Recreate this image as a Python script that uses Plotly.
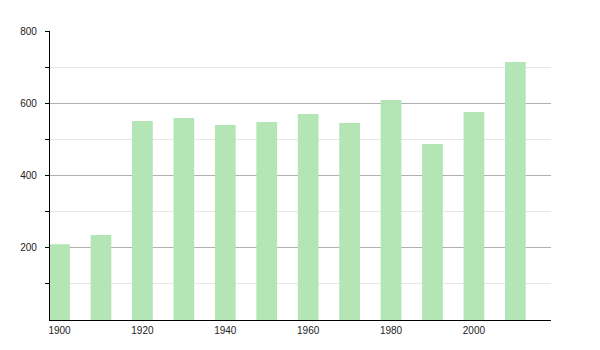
import plotly.graph_objects as go

years = [1900, 1910, 1920, 1930, 1940, 1950, 1960, 1970, 1980, 1990, 2000, 2010]
values = [210, 235, 551, 559, 540, 548, 570, 545, 609, 487, 576, 714]
x_tick_vals = [1900, 1920, 1940, 1960, 1980, 2000]
y_major = [200, 400, 600, 800]
y_minor = [100, 300, 500, 700]

fig = go.Figure(go.Bar(
    x=years, y=values, width=5,
    marker=dict(color="#b3e6b4", line=dict(width=0)),
))

font = dict(family="Liberation Sans, Arial, sans-serif", size=10, color="#222")

fig.update_layout(
    width=600, height=350,
    margin=dict(l=50, r=49, t=31, b=30),
    paper_bgcolor="white", plot_bgcolor="white",
    showlegend=False,
    font=font,
    xaxis=dict(
        range=[1897.7, 2018.6],
        tickvals=x_tick_vals,
        ticktext=[str(v) for v in x_tick_vals],
        showgrid=False, zeroline=False,
        showline=True, linecolor="black", linewidth=1.2,
        ticks="", ticklabelstandoff=1,
        tickfont=font,
    ),
    yaxis=dict(
        range=[0, 800],
        tickvals=y_major,
        ticktext=[str(v) for v in y_major],
        showgrid=True, gridcolor="#b0b0b0", gridwidth=1,
        zeroline=False,
        showline=True, linecolor="black", linewidth=1.2,
        ticks="outside", ticklen=4, tickcolor="black", tickwidth=1,
        ticklabelstandoff=6,
        tickfont=font,
        minor=dict(tickvals=y_minor, showgrid=True, gridcolor="#e6e6e6",
                   ticks="outside", ticklen=4, tickcolor="black", tickwidth=1),
    ),
)

fig.write_html("out.html")
